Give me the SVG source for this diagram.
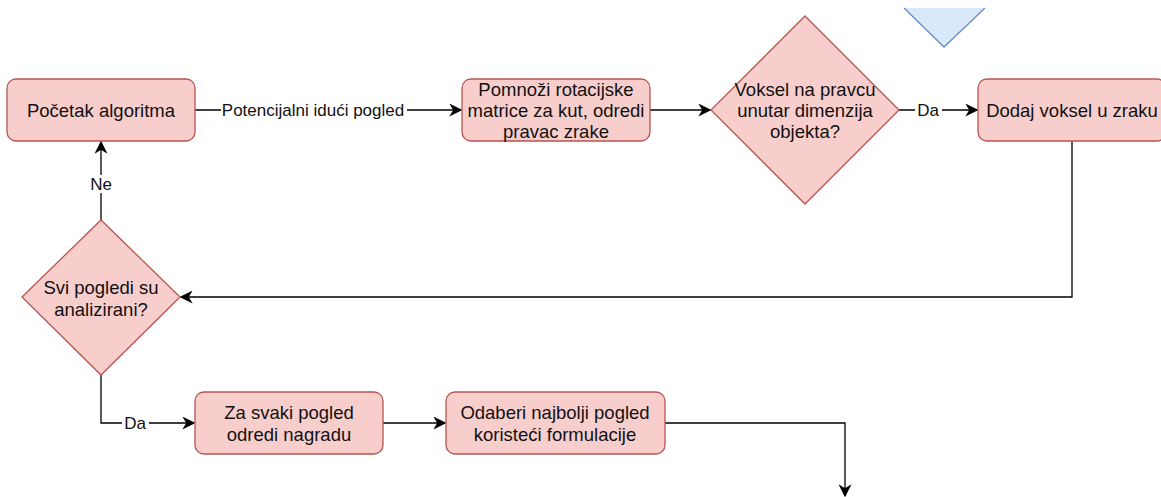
<svg xmlns="http://www.w3.org/2000/svg" width="1161" height="497" viewBox="0 0 1161 497">
<defs>
<marker id="arr" viewBox="0 0 10 10" refX="9" refY="5" markerWidth="13" markerHeight="13" markerUnits="userSpaceOnUse" orient="auto">
<path d="M0,0 L10,5 L0,10 L3,5 Z" fill="#000"/>
</marker>
<style>
.n{fill:#f8cecc;stroke:#b85450;stroke-width:1.3}
.t{font-family:"Liberation Sans",Arial,sans-serif;font-size:18.5px;fill:#111;text-anchor:middle;dominant-baseline:central}
.e{fill:none;stroke:#000;stroke-width:1.3}
.l{font-family:"Liberation Sans",Arial,sans-serif;font-size:17px;fill:#111;text-anchor:middle;dominant-baseline:central}
.bg{fill:#fff}
</style>
</defs>
<rect width="1161" height="497" fill="#fff"/>
<g id="tri">
<polygon points="904,8 944,47 985,8" fill="#dae8fc"/>
<polyline points="904,8 944,47 985,8" fill="none" stroke="#6c8ebf" stroke-width="1.3"/>
</g>
<g id="connectors">
<path class="e" d="M195,110 H461" marker-end="url(#arr)"/>
<rect class="bg" x="221" y="100" width="186" height="20"/>
<text class="l" x="313" y="110">Potencijalni idući pogled</text>
<path class="e" d="M650,110 H710" marker-end="url(#arr)"/>
<path class="e" d="M899,110 H977" marker-end="url(#arr)"/>
<rect class="bg" x="915" y="101" width="27" height="18"/>
<text class="l" x="928" y="110">Da</text>
<path class="e" d="M1072,141 V297 H181" stroke="#333" marker-end="url(#arr)"/>
<path class="e" d="M101,220 V142" marker-end="url(#arr)"/>
<rect class="bg" x="88" y="175" width="27" height="18"/>
<text class="l" x="101" y="184">Ne</text>
<path class="e" d="M101,375 V423 H194" marker-end="url(#arr)"/>
<rect class="bg" x="122" y="414" width="27" height="18"/>
<text class="l" x="135" y="423">Da</text>
<path class="e" d="M383,423 H445" marker-end="url(#arr)"/>
<path class="e" d="M665,423 H845 V496" marker-end="url(#arr)"/>
</g>
<g id="start">
<rect class="n" x="7" y="79" width="188" height="62" rx="9"/>
<text class="t" x="101" y="110">Početak algoritma</text>
</g>
<g id="rotate">
<rect class="n" x="462" y="79" width="188" height="62" rx="9"/>
<text class="t" x="556" y="89">Pomnoži rotacijske</text>
<text class="t" x="556" y="110">matrice za kut, odredi</text>
<text class="t" x="556" y="131">pravac zrake</text>
</g>
<g id="voxelCheck">
<polygon class="n" points="805,16 899,110 805,204 711,110"/>
<text class="t" x="805" y="89">Voksel na pravcu</text>
<text class="t" x="805" y="110">unutar dimenzija</text>
<text class="t" x="805" y="131">objekta?</text>
</g>
<g id="addVoxel">
<rect class="n" x="978" y="79" width="188" height="62" rx="9"/>
<text class="t" x="1072" y="110">Dodaj voksel u zraku</text>
</g>
<g id="allViews">
<polygon class="n" points="101,220 180,297 101,375 22,297"/>
<text class="t" x="101" y="287">Svi pogledi su</text>
<text class="t" x="101" y="309">analizirani?</text>
</g>
<g id="reward">
<rect class="n" x="195" y="392" width="188" height="62" rx="9"/>
<text class="t" x="289" y="412">Za svaki pogled</text>
<text class="t" x="289" y="434">odredi nagradu</text>
</g>
<g id="best">
<rect class="n" x="446" y="392" width="219" height="62" rx="9"/>
<text class="t" x="555" y="412">Odaberi najbolji pogled</text>
<text class="t" x="555" y="434">koristeći formulacije</text>
</g>
</svg>
